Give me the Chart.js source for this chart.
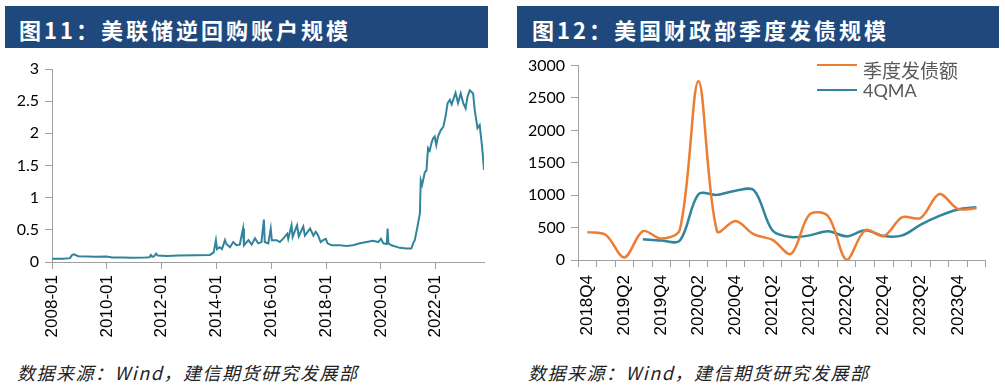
<!DOCTYPE html>
<html lang="zh">
<head>
  <meta charset="UTF-8">
  <title>美联储逆回购与美国财政部发债</title>
  <script src="https://cdn.jsdelivr.net/npm/chart.js"></script>
  <style>
    body { margin: 0; width: 1005px; height: 388px; background: #fff; position: relative; overflow: hidden; }
    .bar { position: absolute; top: 6px; height: 42px; background: #1F497D; color: #fff;
           font: bold 22px "Noto Sans CJK SC"; letter-spacing: 3px; line-height: 47px; box-sizing: border-box; }
    .src { position: absolute; top: 361px; font: italic 18px "Noto Sans CJK SC"; letter-spacing: 1.5px;
           line-height: 22px; color: #222; white-space: nowrap; }
    .box { position: absolute; }
    .lg-line { position: absolute; left: 817px; width: 40px; height: 0; }
    .lg-text { position: absolute; left: 863px; height: 22px; line-height: 22px; color: #595959; }
  </style>
</head>
<body>
  <div class="bar" style="left:5px;width:483px;padding-left:14px">图11：美联储逆回购账户规模</div>
  <div class="bar" style="left:517px;width:482px;padding-left:15px">图12：美国财政部季度发债规模</div>

  <div class="box" style="left:0;top:50px"><canvas id="rrp" width="500" height="300"></canvas></div>
  <div class="box" style="left:505px;top:50px"><canvas id="debt" width="500" height="300"></canvas></div>

  <div class="lg-line" style="top:64px;border-top:2.5px solid #ED7D31"></div>
  <div class="lg-text" style="top:56px;font:19px 'Noto Sans CJK SC'">季度发债额</div>
  <div class="lg-line" style="top:89px;border-top:2.5px solid #31849B"></div>
  <div class="lg-text" style="top:79px;font:18px Lato">4QMA</div>

  <div class="src" style="left:17px">数据来源：Wind，建信期货研究发展部</div>
  <div class="src" style="left:528px">数据来源：Wind，建信期货研究发展部</div>

  <script>
    // 图11 数据：逆回购账户规模（万亿美元）
    const rrpDates = [
      '2008-01-02','2008-05-26','2008-08-28','2008-09-26','2008-10-19','2008-12-16',
      '2009-04-20','2009-07-27','2009-12-28','2010-03-08','2010-08-08','2010-11-25',
      '2011-05-22','2011-07-20','2011-08-11','2011-08-29','2011-09-24','2011-10-19','2011-11-10',
      '2012-03-14','2012-08-08','2013-03-18','2013-10-05','2013-11-25','2013-12-24',
      '2014-01-08','2014-02-13','2014-03-14','2014-04-23','2014-05-12','2014-06-29','2014-08-11',
      '2014-09-24','2014-11-07','2014-12-20','2015-01-02','2015-03-01','2015-04-13','2015-05-27',
      '2015-07-09','2015-08-22','2015-09-24','2015-10-05','2015-11-22','2015-12-24','2016-01-08',
      '2016-03-10','2016-04-23','2016-06-05','2016-07-31','2016-08-14','2016-09-27','2016-10-12',
      '2016-12-09','2017-01-02','2017-03-01','2017-03-23','2017-05-31','2017-07-14','2017-08-15',
      '2017-09-13','2017-10-20','2017-11-22','2017-12-28','2018-01-19','2018-03-14','2018-07-02',
      '2018-09-28','2018-12-24','2019-03-26','2019-06-21','2019-09-17','2019-11-25','2020-01-02',
      '2020-02-03','2020-03-18','2020-03-29','2020-04-09','2020-05-19','2020-09-09','2020-12-06',
      '2021-02-10','2021-03-04','2021-03-26','2021-05-01','2021-06-03','2021-06-14','2021-07-02',
      '2021-08-08','2021-08-29','2021-09-20','2021-10-12','2021-11-03','2021-11-25','2021-12-17',
      '2022-01-08','2022-01-30','2022-03-08','2022-04-10','2022-05-09','2022-06-07','2022-07-06',
      '2022-07-31','2022-09-21','2022-10-24','2022-11-29','2023-01-02','2023-02-03','2023-02-28',
      '2023-03-29','2023-05-12','2023-06-03','2023-07-09','2023-08-08','2023-09-10','2023-10-05'
    ];
    const rrpValues = [
      0.05, 0.05, 0.06, 0.11, 0.12, 0.09,
      0.085, 0.08, 0.085, 0.07, 0.07, 0.065,
      0.07, 0.075, 0.11, 0.08, 0.09, 0.13, 0.10,
      0.095, 0.10, 0.105, 0.11, 0.15, 0.34,
      0.20, 0.23, 0.20, 0.34, 0.28, 0.23, 0.31,
      0.26, 0.27, 0.52, 0.26, 0.34, 0.27, 0.37,
      0.29, 0.31, 0.66, 0.31, 0.29, 0.52, 0.34,
      0.34, 0.31, 0.36, 0.44, 0.36, 0.57, 0.39,
      0.57, 0.40, 0.55, 0.41, 0.52, 0.41, 0.47,
      0.42, 0.31, 0.34, 0.36, 0.29, 0.26, 0.26,
      0.25, 0.26, 0.29, 0.31, 0.33, 0.31, 0.36,
      0.29, 0.28, 0.52, 0.29, 0.26, 0.22, 0.21,
      0.21, 0.29, 0.34, 0.55, 0.76, 1.27, 1.20,
      1.40, 1.42, 1.77, 1.73, 1.84, 1.92, 1.95,
      1.82, 1.95, 2.05, 2.10, 2.26, 2.47, 2.52,
      2.45, 2.63, 2.47, 2.62, 2.47, 2.39, 2.57,
      2.67, 2.62, 2.36, 2.08, 2.13, 1.79, 1.43
    ];
    const rrpTickLabels = ['2008-01','2010-01','2012-01','2014-01','2016-01','2018-01','2020-01','2022-01'];

    // 图12 数据：季度发债额与4季度移动平均（十亿美元）
    const quarters = [
      '2018Q4','2019Q1','2019Q2','2019Q3','2019Q4','2020Q1','2020Q2','2020Q3','2020Q4','2021Q1','2021Q2',
      '2021Q3','2021Q4','2022Q1','2022Q2','2022Q3','2022Q4','2023Q1','2023Q2','2023Q3','2023Q4','2024Q1'
    ];
    const issuance = [430, 385, 40, 445, 330, 470, 2760, 445, 600, 395, 310,
                      95, 705, 675, 0, 460, 370, 660, 650, 1019, 788, 800];
    const ma4 = [null, null, null, 322, 300, 300, 1015, 1005, 1070, 1075, 455,
                 355, 380, 445, 365, 460, 370, 380, 545, 680, 778, 815];

    const TEAL = '#31849B', ORANGE = '#ED7D31', AXIS = '#A0A0A0';
    const toYear = s => {
      const [y, m, d] = s.split('-').map(Number);
      return y + (m - 1) / 12 + ((d || 1) - 1) / 365;
    };
    const yFont = { family: 'Lato', size: 16 };
    const xFont = { family: 'Liberation Sans', size: 17 };

    new Chart(document.getElementById('rrp'), {
      type: 'line',
      data: {
        datasets: [{
          data: rrpDates.map((d, i) => ({ x: toYear(d), y: rrpValues[i] })),
          borderColor: TEAL,
          borderWidth: 2,
          pointRadius: 0,
          tension: 0
        }]
      },
      options: {
        responsive: false,
        animation: false,
        devicePixelRatio: 1,
        layout: { padding: { top: 19, right: 16, left: 0, bottom: 0 } },
        plugins: { legend: { display: false }, tooltip: { enabled: false } },
        scales: {
          x: {
            type: 'linear',
            min: 2008,
            max: 2023.76,
            afterBuildTicks: axis => { axis.ticks = rrpTickLabels.map(l => ({ value: toYear(l) })); },
            afterFit: axis => { axis.height = 88; },
            ticks: {
              callback: (v, i) => rrpTickLabels[i],
              minRotation: 90, maxRotation: 90,
              padding: 6, font: xFont, color: '#000'
            },
            grid: { drawOnChartArea: false, tickLength: 7, color: AXIS },
            border: { color: AXIS }
          },
          y: {
            min: 0, max: 3,
            afterFit: axis => { axis.width = 52; },
            ticks: { stepSize: 0.5, callback: v => String(v), padding: 6, font: yFont, color: '#000' },
            grid: { drawOnChartArea: false, tickLength: 7, color: AXIS },
            border: { color: AXIS }
          }
        }
      }
    });

    new Chart(document.getElementById('debt'), {
      type: 'line',
      data: {
        labels: quarters,
        datasets: [
          { label: '季度发债额', data: issuance, borderColor: ORANGE, borderWidth: 2.5,
            pointRadius: 0, tension: 0.33 },
          { label: '4QMA', data: ma4, borderColor: TEAL, borderWidth: 2.5,
            pointRadius: 0, tension: 0.33 }
        ]
      },
      options: {
        responsive: false,
        animation: false,
        devicePixelRatio: 1,
        layout: { padding: { top: 14, right: 9, left: 0, bottom: 0 } },
        plugins: { legend: { display: false }, tooltip: { enabled: false } },
        scales: {
          x: {
            offset: true,
            afterFit: axis => { axis.height = 90; },
            ticks: {
              autoSkip: false,
              callback: (v, i) => (i % 2 === 0 ? quarters[i] : ''),
              minRotation: 90, maxRotation: 90,
              padding: 8, font: xFont, color: '#000'
            },
            grid: { offset: true, drawOnChartArea: false, tickLength: 7, color: AXIS },
            border: { color: AXIS }
          },
          y: {
            min: 0, max: 3000,
            afterFit: axis => { axis.width = 73; },
            ticks: { stepSize: 500, callback: v => String(v), padding: 6, font: yFont, color: '#000' },
            grid: { drawOnChartArea: false, tickLength: 7, color: AXIS },
            border: { color: AXIS }
          }
        }
      }
    });
  </script>
</body>
</html>
